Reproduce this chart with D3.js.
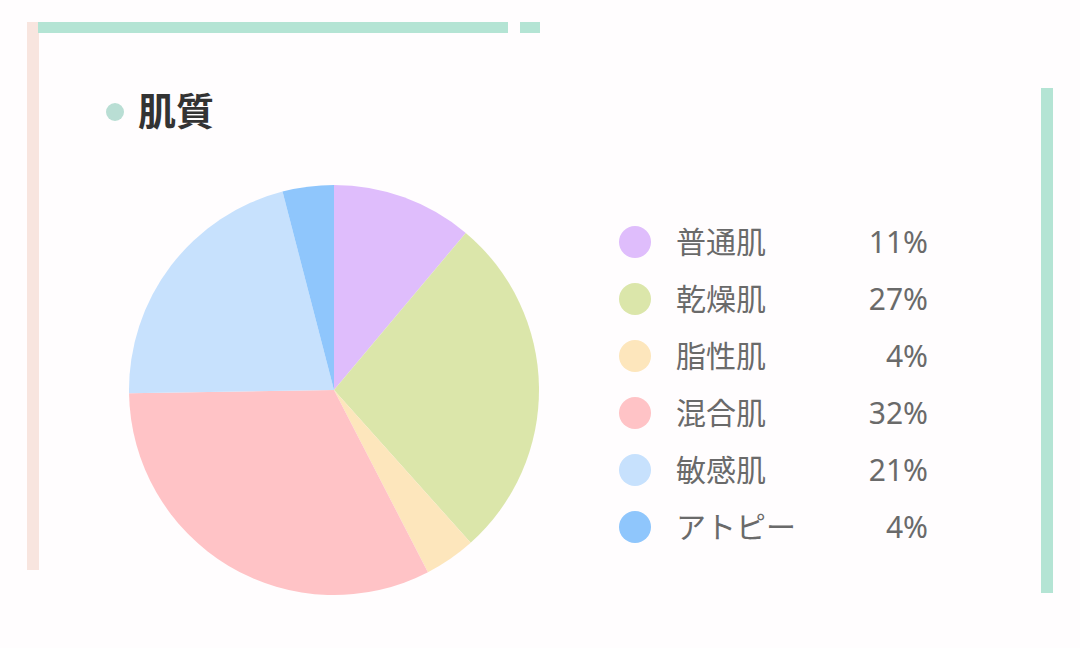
<!DOCTYPE html>
<html>
<head>
<meta charset="utf-8">
<script src="https://cdn.jsdelivr.net/npm/d3@7"></script>
<style>
  html, body { margin: 0; padding: 0; background: #fffdfe; }
  svg { display: block; }
</style>
</head>
<body>
<div id="chart"></div>
<script>
// Data
const categories = ["普通肌", "乾燥肌", "脂性肌", "混合肌", "敏感肌", "アトピー"];
const shares = [11, 27, 4, 32, 21, 4];
const colors = ["#dfbdfc", "#dbe6aa", "#fde6bc", "#ffc3c6", "#c7e1fd", "#8fc6fc"];
const title = "肌質";

const width = 1080;
const height = 648;

const svg = d3.select("#chart")
    .append("svg")
    .attr("width", width)
    .attr("height", height);

// frame decorations
svg.append("rect").attr("x", 27).attr("y", 22).attr("width", 12).attr("height", 548).attr("fill", "#f8e5df");
svg.append("rect").attr("x", 38).attr("y", 22).attr("width", 470).attr("height", 11).attr("fill", "#b4e4d4");
svg.append("rect").attr("x", 520).attr("y", 22).attr("width", 20).attr("height", 11).attr("fill", "#b4e4d4");
svg.append("rect").attr("x", 1041).attr("y", 88).attr("width", 12).attr("height", 505).attr("fill", "#b4e4d4");

// title
svg.append("circle").attr("cx", 115).attr("cy", 112).attr("r", 9).attr("fill", "#b9ded4");
svg.append("text")
    .attr("x", 138)
    .attr("y", 125)
    .style("font-family", "'Noto Sans CJK JP', sans-serif")
    .style("font-size", "38px")
    .style("font-weight", "bold")
    .attr("fill", "#333")
    .text(title);

// pie
const cx = 334, cy = 390, radius = 205;
const pie = d3.pie().sort(null).value(d => d);
const arc = d3.arc().innerRadius(0).outerRadius(radius);
const color = d3.scaleOrdinal().domain(categories).range(colors);

svg.append("g")
    .attr("transform", `translate(${cx},${cy})`)
    .selectAll("path")
    .data(pie(shares))
    .enter()
    .append("path")
    .attr("d", arc)
    .attr("fill", (d, i) => color(categories[i]));

// legend
const y = d3.scalePoint().domain(categories).range([242, 527]);
const legend = svg.selectAll(".legend")
    .data(categories)
    .enter()
    .append("g")
    .attr("class", "legend")
    .attr("transform", d => `translate(0,${y(d)})`);

legend.append("circle")
    .attr("cx", 635)
    .attr("r", 16)
    .attr("fill", d => color(d));

legend.append("text")
    .attr("x", 676)
    .attr("dy", "0.36em")
    .style("font-family", "'Noto Sans CJK JP', sans-serif")
    .style("font-size", "30px")
    .attr("fill", "#6a6a6a")
    .text(d => d);

legend.append("text")
    .attr("x", 928)
    .attr("dy", "0.36em")
    .attr("text-anchor", "end")
    .style("font-family", "'Noto Sans', sans-serif")
    .style("font-size", "30px")
    .attr("fill", "#6a6a6a")
    .text((d, i) => shares[i] + "%");
</script>
</body>
</html>
